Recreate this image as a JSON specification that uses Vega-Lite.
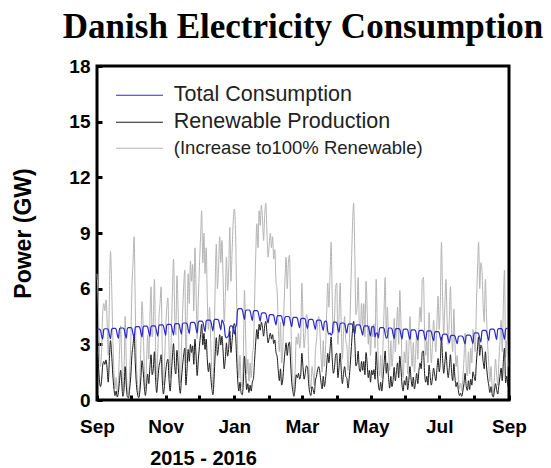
{
"$schema": "https://vega.github.io/schema/vega-lite/v6.json",
"width": 412, "height": 334,
"autosize": "none",
"padding": {"left": 97, "top": 66, "right": 42, "bottom": 68},
"background": "white",
"title": {"text": "Danish Electricity Consumption", "font": "Liberation Serif", "fontSize": 35, "fontWeight": "bold", "color": "black", "anchor": "middle", "frame": "group", "baseline": "alphabetic", "offset": 17, "dy": 33},
"config": {"view": {"stroke": "black", "strokeWidth": 3}},
"data": {"values": [
{"d":"2015-09-01","t":3.82,"r":2.72,"g":6.8},{"d":"2015-09-02","t":3.82,"r":2.2,"g":5.5},{"d":"2015-09-03","t":3.82,"r":1.2,"g":3.0},{"d":"2015-09-04","t":3.77,"r":0.72,"g":1.8},{"d":"2015-09-05","t":3.49,"r":1.0,"g":2.5},{"d":"2015-09-06","t":3.28,"r":1.84,"g":4.6},{"d":"2015-09-07","t":3.79,"r":2.08,"g":5.2},{"d":"2015-09-08","t":3.84,"r":1.92,"g":4.8},{"d":"2015-09-09","t":3.84,"r":2.16,"g":5.4},{"d":"2015-09-10","t":3.84,"r":1.68,"g":4.2},{"d":"2015-09-11","t":3.79,"r":0.96,"g":2.4},{"d":"2015-09-12","t":3.51,"r":2.24,"g":5.6},{"d":"2015-09-13","t":3.30,"r":3.2,"g":8.0},{"d":"2015-09-14","t":3.81,"r":2.48,"g":6.2},{"d":"2015-09-15","t":3.86,"r":1.4,"g":3.5},{"d":"2015-09-16","t":3.86,"r":0.64,"g":1.6},{"d":"2015-09-17","t":3.86,"r":0.24,"g":0.6},{"d":"2015-09-18","t":3.81,"r":0.48,"g":1.2},{"d":"2015-09-19","t":3.53,"r":0.16,"g":0.4},{"d":"2015-09-20","t":3.32,"r":0.4,"g":1.0},{"d":"2015-09-21","t":3.83,"r":1.04,"g":2.6},{"d":"2015-09-22","t":3.88,"r":1.6,"g":4.0},{"d":"2015-09-23","t":3.88,"r":0.88,"g":2.2},{"d":"2015-09-24","t":3.88,"r":0.2,"g":0.5},{"d":"2015-09-25","t":3.83,"r":0.56,"g":1.4},{"d":"2015-09-26","t":3.55,"r":1.8,"g":4.5},{"d":"2015-09-27","t":3.33,"r":0.8,"g":2.0},{"d":"2015-09-28","t":3.85,"r":0.16,"g":0.4},{"d":"2015-09-29","t":3.9,"r":0.12,"g":0.3},{"d":"2015-09-30","t":3.9,"r":0.6,"g":1.5},
{"d":"2015-10-01","t":3.9,"r":1.28,"g":3.2},{"d":"2015-10-02","t":3.85,"r":2.4,"g":6.0},{"d":"2015-10-03","t":3.57,"r":2.96,"g":7.4},{"d":"2015-10-04","t":3.35,"r":3.52,"g":8.8},{"d":"2015-10-05","t":3.9,"r":2.0,"g":5.0},{"d":"2015-10-06","t":3.95,"r":0.84,"g":2.1},{"d":"2015-10-07","t":3.95,"r":0.32,"g":0.8},{"d":"2015-10-08","t":3.95,"r":0.12,"g":0.3},{"d":"2015-10-09","t":3.9,"r":0.4,"g":1.0},{"d":"2015-10-10","t":3.62,"r":1.2,"g":3.0},{"d":"2015-10-11","t":3.4,"r":2.12,"g":5.3},{"d":"2015-10-12","t":3.93,"r":1.6,"g":4.0},{"d":"2015-10-13","t":3.98,"r":0.72,"g":1.8},{"d":"2015-10-14","t":3.98,"r":0.24,"g":0.6},{"d":"2015-10-15","t":3.98,"r":0.8,"g":2.0},{"d":"2015-10-16","t":3.93,"r":1.4,"g":3.5},{"d":"2015-10-17","t":3.65,"r":0.88,"g":2.2},{"d":"2015-10-18","t":3.42,"r":1.76,"g":4.4},{"d":"2015-10-19","t":3.95,"r":2.44,"g":6.1},{"d":"2015-10-20","t":4.0,"r":1.36,"g":3.4},{"d":"2015-10-21","t":4.0,"r":1.68,"g":4.2},{"d":"2015-10-22","t":4.0,"r":2.6,"g":6.5},{"d":"2015-10-23","t":3.95,"r":1.2,"g":3.0},{"d":"2015-10-24","t":3.67,"r":0.4,"g":1.0},{"d":"2015-10-25","t":3.44,"r":1.04,"g":2.6},{"d":"2015-10-26","t":4.0,"r":1.76,"g":4.4},{"d":"2015-10-27","t":4.05,"r":2.08,"g":5.2},{"d":"2015-10-28","t":4.05,"r":2.44,"g":6.1},{"d":"2015-10-29","t":4.05,"r":1.04,"g":2.6},{"d":"2015-10-30","t":4.0,"r":0.32,"g":0.8},{"d":"2015-10-31","t":3.72,"r":0.8,"g":2.0},
{"d":"2015-11-01","t":3.48,"r":1.52,"g":3.8},{"d":"2015-11-02","t":4.03,"r":2.0,"g":5.0},{"d":"2015-11-03","t":4.08,"r":2.2,"g":5.5},{"d":"2015-11-04","t":4.08,"r":1.12,"g":2.8},{"d":"2015-11-05","t":4.08,"r":0.48,"g":1.2},{"d":"2015-11-06","t":4.03,"r":1.36,"g":3.4},{"d":"2015-11-07","t":3.75,"r":2.32,"g":5.8},{"d":"2015-11-08","t":3.5,"r":3.04,"g":7.6},{"d":"2015-11-09","t":4.07,"r":1.84,"g":4.6},{"d":"2015-11-10","t":4.12,"r":1.4,"g":3.5},{"d":"2015-11-11","t":4.12,"r":2.68,"g":6.7},{"d":"2015-11-12","t":4.12,"r":2.0,"g":5.0},{"d":"2015-11-13","t":4.07,"r":0.88,"g":2.2},{"d":"2015-11-14","t":3.79,"r":0.36,"g":0.9},{"d":"2015-11-15","t":3.55,"r":1.12,"g":2.8},{"d":"2015-11-16","t":4.1,"r":1.84,"g":4.6},{"d":"2015-11-17","t":4.15,"r":2.44,"g":6.1},{"d":"2015-11-18","t":4.15,"r":2.8,"g":7.0},{"d":"2015-11-19","t":4.15,"r":0.8,"g":2.0},{"d":"2015-11-20","t":4.1,"r":1.68,"g":4.2},{"d":"2015-11-21","t":3.82,"r":2.72,"g":6.8},{"d":"2015-11-22","t":3.58,"r":2.08,"g":5.2},{"d":"2015-11-23","t":4.13,"r":3.0,"g":7.5},{"d":"2015-11-24","t":4.18,"r":2.56,"g":6.4},{"d":"2015-11-25","t":4.18,"r":2.92,"g":7.3},{"d":"2015-11-26","t":4.18,"r":1.92,"g":4.8},{"d":"2015-11-27","t":4.13,"r":3.28,"g":8.2},{"d":"2015-11-28","t":3.85,"r":2.4,"g":6.0},{"d":"2015-11-29","t":3.6,"r":1.32,"g":3.3},{"d":"2015-11-30","t":4.2,"r":2.16,"g":5.4},
{"d":"2015-12-01","t":4.25,"r":2.88,"g":7.2},{"d":"2015-12-02","t":4.25,"r":3.52,"g":8.8},{"d":"2015-12-03","t":4.25,"r":4.08,"g":10.2},{"d":"2015-12-04","t":4.2,"r":2.96,"g":7.4},{"d":"2015-12-05","t":3.92,"r":3.6,"g":9.0},{"d":"2015-12-06","t":3.68,"r":2.72,"g":6.8},{"d":"2015-12-07","t":4.25,"r":3.28,"g":8.2},{"d":"2015-12-08","t":4.3,"r":2.16,"g":5.4},{"d":"2015-12-09","t":4.3,"r":1.52,"g":3.8},{"d":"2015-12-10","t":4.3,"r":2.0,"g":5.0},{"d":"2015-12-11","t":4.25,"r":1.28,"g":3.2},{"d":"2015-12-12","t":3.97,"r":0.64,"g":1.6},{"d":"2015-12-13","t":3.72,"r":0.28,"g":0.7},{"d":"2015-12-14","t":4.3,"r":1.12,"g":2.8},{"d":"2015-12-15","t":4.35,"r":2.48,"g":6.2},{"d":"2015-12-16","t":4.35,"r":3.36,"g":8.4},{"d":"2015-12-17","t":4.35,"r":2.4,"g":6.0},{"d":"2015-12-18","t":4.3,"r":2.88,"g":7.2},{"d":"2015-12-19","t":4.02,"r":3.52,"g":8.8},{"d":"2015-12-20","t":3.78,"r":2.96,"g":7.4},{"d":"2015-12-21","t":4.3,"r":3.44,"g":8.6},{"d":"2015-12-22","t":4.2,"r":2.64,"g":6.6},{"d":"2015-12-23","t":4.0,"r":1.68,"g":4.2},{"d":"2015-12-24","t":3.45,"r":2.24,"g":5.6},{"d":"2015-12-25","t":3.35,"r":3.08,"g":7.7},{"d":"2015-12-26","t":3.4,"r":2.36,"g":5.9},{"d":"2015-12-27","t":3.5,"r":2.8,"g":7.0},{"d":"2015-12-28","t":3.95,"r":3.72,"g":9.3},{"d":"2015-12-29","t":4.0,"r":2.56,"g":6.4},{"d":"2015-12-30","t":4.0,"r":3.2,"g":8.0},{"d":"2015-12-31","t":3.8,"r":3.84,"g":9.6},
{"d":"2016-01-01","t":3.55,"r":4.12,"g":10.3},{"d":"2016-01-02","t":3.9,"r":3.68,"g":9.2},{"d":"2016-01-03","t":4.1,"r":2.32,"g":5.8},{"d":"2016-01-04","t":4.87,"r":1.08,"g":2.7},{"d":"2016-01-05","t":4.92,"r":0.48,"g":1.2},{"d":"2016-01-06","t":4.92,"r":0.96,"g":2.4},{"d":"2016-01-07","t":4.92,"r":0.4,"g":1.0},{"d":"2016-01-08","t":4.87,"r":0.28,"g":0.7},{"d":"2016-01-09","t":4.59,"r":0.92,"g":2.3},{"d":"2016-01-10","t":4.35,"r":2.36,"g":5.9},{"d":"2016-01-11","t":4.8,"r":1.44,"g":3.6},{"d":"2016-01-12","t":4.85,"r":0.56,"g":1.4},{"d":"2016-01-13","t":4.85,"r":0.88,"g":2.2},{"d":"2016-01-14","t":4.85,"r":0.4,"g":1.0},{"d":"2016-01-15","t":4.8,"r":0.8,"g":2.0},{"d":"2016-01-16","t":4.52,"r":0.48,"g":1.2},{"d":"2016-01-17","t":4.28,"r":0.96,"g":2.4},{"d":"2016-01-18","t":4.77,"r":1.16,"g":2.9},{"d":"2016-01-19","t":4.82,"r":2.16,"g":5.4},{"d":"2016-01-20","t":4.82,"r":3.12,"g":7.8},{"d":"2016-01-21","t":4.82,"r":3.8,"g":9.5},{"d":"2016-01-22","t":4.77,"r":3.28,"g":8.2},{"d":"2016-01-23","t":4.49,"r":4.08,"g":10.2},{"d":"2016-01-24","t":4.25,"r":3.76,"g":9.4},{"d":"2016-01-25","t":4.65,"r":4.2,"g":10.5},{"d":"2016-01-26","t":4.7,"r":3.92,"g":9.8},{"d":"2016-01-27","t":4.7,"r":3.44,"g":8.6},{"d":"2016-01-28","t":4.7,"r":4.0,"g":10.0},{"d":"2016-01-29","t":4.65,"r":4.24,"g":10.6},{"d":"2016-01-30","t":4.37,"r":3.6,"g":9.0},{"d":"2016-01-31","t":4.15,"r":3.08,"g":7.7},
{"d":"2016-02-01","t":4.55,"r":3.36,"g":8.4},{"d":"2016-02-02","t":4.6,"r":3.6,"g":9.0},{"d":"2016-02-03","t":4.6,"r":3.28,"g":8.2},{"d":"2016-02-04","t":4.6,"r":3.52,"g":8.8},{"d":"2016-02-05","t":4.55,"r":3.04,"g":7.6},{"d":"2016-02-06","t":4.27,"r":3.24,"g":8.1},{"d":"2016-02-07","t":4.05,"r":2.56,"g":6.4},{"d":"2016-02-08","t":4.5,"r":2.36,"g":5.9},{"d":"2016-02-09","t":4.55,"r":1.6,"g":4.0},{"d":"2016-02-10","t":4.55,"r":1.04,"g":2.6},{"d":"2016-02-11","t":4.55,"r":1.68,"g":4.2},{"d":"2016-02-12","t":4.5,"r":0.8,"g":2.0},{"d":"2016-02-13","t":4.22,"r":1.08,"g":2.7},{"d":"2016-02-14","t":4.0,"r":1.92,"g":4.8},{"d":"2016-02-15","t":4.45,"r":2.6,"g":6.5},{"d":"2016-02-16","t":4.5,"r":3.08,"g":7.7},{"d":"2016-02-17","t":4.5,"r":2.4,"g":6.0},{"d":"2016-02-18","t":4.5,"r":2.96,"g":7.4},{"d":"2016-02-19","t":4.45,"r":3.12,"g":7.8},{"d":"2016-02-20","t":4.17,"r":2.0,"g":5.0},{"d":"2016-02-21","t":3.95,"r":0.96,"g":2.4},{"d":"2016-02-22","t":4.4,"r":0.48,"g":1.2},{"d":"2016-02-23","t":4.45,"r":0.2,"g":0.5},{"d":"2016-02-24","t":4.45,"r":0.64,"g":1.6},{"d":"2016-02-25","t":4.45,"r":1.36,"g":3.4},{"d":"2016-02-26","t":4.4,"r":1.2,"g":3.0},{"d":"2016-02-27","t":4.12,"r":1.44,"g":3.6},{"d":"2016-02-28","t":3.9,"r":1.12,"g":2.8},{"d":"2016-02-29","t":4.35,"r":1.36,"g":3.4},
{"d":"2016-03-01","t":4.4,"r":2.52,"g":6.3},{"d":"2016-03-02","t":4.4,"r":1.76,"g":4.4},{"d":"2016-03-03","t":4.4,"r":1.12,"g":2.8},{"d":"2016-03-04","t":4.35,"r":1.44,"g":3.6},{"d":"2016-03-05","t":4.07,"r":1.84,"g":4.6},{"d":"2016-03-06","t":3.85,"r":1.76,"g":4.4},{"d":"2016-03-07","t":4.3,"r":0.88,"g":2.2},{"d":"2016-03-08","t":4.35,"r":0.4,"g":1.0},{"d":"2016-03-09","t":4.35,"r":0.24,"g":0.6},{"d":"2016-03-10","t":4.35,"r":0.72,"g":1.8},{"d":"2016-03-11","t":4.3,"r":0.56,"g":1.4},{"d":"2016-03-12","t":4.02,"r":0.32,"g":0.8},{"d":"2016-03-13","t":3.8,"r":1.04,"g":2.6},{"d":"2016-03-14","t":4.25,"r":1.28,"g":3.2},{"d":"2016-03-15","t":4.3,"r":1.64,"g":4.1},{"d":"2016-03-16","t":4.3,"r":1.8,"g":4.5},{"d":"2016-03-17","t":4.3,"r":1.48,"g":3.7},{"d":"2016-03-18","t":4.25,"r":0.96,"g":2.4},{"d":"2016-03-19","t":3.97,"r":0.6,"g":1.5},{"d":"2016-03-20","t":3.75,"r":1.28,"g":3.2},{"d":"2016-03-21","t":4.2,"r":0.72,"g":1.8},{"d":"2016-03-22","t":4.25,"r":1.12,"g":2.8},{"d":"2016-03-23","t":4.2,"r":1.84,"g":4.6},{"d":"2016-03-24","t":3.7,"r":2.52,"g":6.3},{"d":"2016-03-25","t":3.55,"r":2.0,"g":5.0},{"d":"2016-03-26","t":3.6,"r":2.72,"g":6.8},{"d":"2016-03-27","t":3.5,"r":3.4,"g":8.5},{"d":"2016-03-28","t":3.6,"r":2.16,"g":5.4},{"d":"2016-03-29","t":4.2,"r":1.44,"g":3.6},{"d":"2016-03-30","t":4.2,"r":1.76,"g":4.4},{"d":"2016-03-31","t":4.2,"r":2.44,"g":6.1},
{"d":"2016-04-01","t":4.15,"r":2.52,"g":6.3},{"d":"2016-04-02","t":3.85,"r":1.2,"g":3.0},{"d":"2016-04-03","t":3.65,"r":1.76,"g":4.4},{"d":"2016-04-04","t":4.1,"r":2.52,"g":6.3},{"d":"2016-04-05","t":4.15,"r":1.6,"g":4.0},{"d":"2016-04-06","t":4.15,"r":0.88,"g":2.2},{"d":"2016-04-07","t":4.15,"r":1.44,"g":3.6},{"d":"2016-04-08","t":4.1,"r":1.8,"g":4.5},{"d":"2016-04-09","t":3.82,"r":1.28,"g":3.2},{"d":"2016-04-10","t":3.6,"r":1.16,"g":2.9},{"d":"2016-04-11","t":4.05,"r":0.64,"g":1.6},{"d":"2016-04-12","t":4.1,"r":1.16,"g":2.9},{"d":"2016-04-13","t":4.1,"r":1.92,"g":4.8},{"d":"2016-04-14","t":4.1,"r":2.88,"g":7.2},{"d":"2016-04-15","t":4.05,"r":3.76,"g":9.4},{"d":"2016-04-16","t":3.77,"r":4.24,"g":10.6},{"d":"2016-04-17","t":3.55,"r":3.2,"g":8.0},{"d":"2016-04-18","t":4.0,"r":1.84,"g":4.6},{"d":"2016-04-19","t":4.05,"r":2.0,"g":5.0},{"d":"2016-04-20","t":4.05,"r":2.64,"g":6.6},{"d":"2016-04-21","t":4.05,"r":1.68,"g":4.2},{"d":"2016-04-22","t":4.0,"r":1.52,"g":3.8},{"d":"2016-04-23","t":3.72,"r":2.08,"g":5.2},{"d":"2016-04-24","t":3.5,"r":1.6,"g":4.0},{"d":"2016-04-25","t":3.95,"r":2.08,"g":5.2},{"d":"2016-04-26","t":4.0,"r":1.36,"g":3.4},{"d":"2016-04-27","t":4.0,"r":2.56,"g":6.4},{"d":"2016-04-28","t":4.0,"r":1.96,"g":4.9},{"d":"2016-04-29","t":3.95,"r":1.2,"g":3.0},{"d":"2016-04-30","t":3.67,"r":1.6,"g":4.0},
{"d":"2016-05-01","t":3.45,"r":0.96,"g":2.4},{"d":"2016-05-02","t":3.9,"r":1.6,"g":4.0},{"d":"2016-05-03","t":3.95,"r":1.36,"g":3.4},{"d":"2016-05-04","t":3.95,"r":1.64,"g":4.1},{"d":"2016-05-05","t":3.4,"r":1.12,"g":2.8},{"d":"2016-05-06","t":3.6,"r":2.6,"g":6.5},{"d":"2016-05-07","t":3.6,"r":1.6,"g":4.0},{"d":"2016-05-08","t":3.35,"r":0.8,"g":2.0},{"d":"2016-05-09","t":3.85,"r":0.52,"g":1.3},{"d":"2016-05-10","t":3.9,"r":0.96,"g":2.4},{"d":"2016-05-11","t":3.9,"r":0.48,"g":1.2},{"d":"2016-05-12","t":3.9,"r":1.12,"g":2.8},{"d":"2016-05-13","t":3.85,"r":1.92,"g":4.8},{"d":"2016-05-14","t":3.57,"r":2.64,"g":6.6},{"d":"2016-05-15","t":3.33,"r":1.44,"g":3.6},{"d":"2016-05-16","t":3.4,"r":2.0,"g":5.0},{"d":"2016-05-17","t":3.88,"r":1.2,"g":3.0},{"d":"2016-05-18","t":3.88,"r":0.64,"g":1.6},{"d":"2016-05-19","t":3.88,"r":1.28,"g":3.2},{"d":"2016-05-20","t":3.83,"r":0.72,"g":1.8},{"d":"2016-05-21","t":3.55,"r":1.04,"g":2.6},{"d":"2016-05-22","t":3.3,"r":1.76,"g":4.4},{"d":"2016-05-23","t":3.8,"r":1.04,"g":2.6},{"d":"2016-05-24","t":3.85,"r":1.52,"g":3.8},{"d":"2016-05-25","t":3.85,"r":2.0,"g":5.0},{"d":"2016-05-26","t":3.85,"r":1.2,"g":3.0},{"d":"2016-05-27","t":3.8,"r":2.36,"g":5.9},{"d":"2016-05-28","t":3.52,"r":1.68,"g":4.2},{"d":"2016-05-29","t":3.28,"r":0.8,"g":2.0},{"d":"2016-05-30","t":3.77,"r":0.48,"g":1.2},{"d":"2016-05-31","t":3.82,"r":1.04,"g":2.6},
{"d":"2016-06-01","t":3.82,"r":0.8,"g":2.0},{"d":"2016-06-02","t":3.82,"r":1.28,"g":3.2},{"d":"2016-06-03","t":3.77,"r":0.56,"g":1.4},{"d":"2016-06-04","t":3.49,"r":1.04,"g":2.6},{"d":"2016-06-05","t":3.26,"r":1.8,"g":4.5},{"d":"2016-06-06","t":3.73,"r":1.12,"g":2.8},{"d":"2016-06-07","t":3.78,"r":0.72,"g":1.8},{"d":"2016-06-08","t":3.78,"r":1.24,"g":3.1},{"d":"2016-06-09","t":3.78,"r":0.6,"g":1.5},{"d":"2016-06-10","t":3.73,"r":0.96,"g":2.4},{"d":"2016-06-11","t":3.45,"r":1.44,"g":3.6},{"d":"2016-06-12","t":3.24,"r":0.88,"g":2.2},{"d":"2016-06-13","t":3.7,"r":1.6,"g":4.0},{"d":"2016-06-14","t":3.75,"r":2.0,"g":5.0},{"d":"2016-06-15","t":3.75,"r":1.68,"g":4.2},{"d":"2016-06-16","t":3.75,"r":2.6,"g":6.5},{"d":"2016-06-17","t":3.7,"r":2.64,"g":6.6},{"d":"2016-06-18","t":3.42,"r":1.44,"g":3.6},{"d":"2016-06-19","t":3.22,"r":0.96,"g":2.4},{"d":"2016-06-20","t":3.67,"r":1.28,"g":3.2},{"d":"2016-06-21","t":3.72,"r":0.8,"g":2.0},{"d":"2016-06-22","t":3.72,"r":1.88,"g":4.7},{"d":"2016-06-23","t":3.72,"r":1.28,"g":3.2},{"d":"2016-06-24","t":3.67,"r":0.8,"g":2.0},{"d":"2016-06-25","t":3.39,"r":1.2,"g":3.0},{"d":"2016-06-26","t":3.2,"r":1.72,"g":4.3},{"d":"2016-06-27","t":3.63,"r":1.36,"g":3.4},{"d":"2016-06-28","t":3.68,"r":1.04,"g":2.6},{"d":"2016-06-29","t":3.68,"r":1.68,"g":4.2},{"d":"2016-06-30","t":3.68,"r":2.24,"g":5.6},
{"d":"2016-07-01","t":3.63,"r":1.52,"g":3.8},{"d":"2016-07-02","t":3.35,"r":2.08,"g":5.2},{"d":"2016-07-03","t":3.16,"r":3.4,"g":8.5},{"d":"2016-07-04","t":3.5,"r":2.24,"g":5.6},{"d":"2016-07-05","t":3.55,"r":1.44,"g":3.6},{"d":"2016-07-06","t":3.55,"r":2.0,"g":5.0},{"d":"2016-07-07","t":3.55,"r":2.6,"g":6.5},{"d":"2016-07-08","t":3.5,"r":1.76,"g":4.4},{"d":"2016-07-09","t":3.27,"r":1.2,"g":3.0},{"d":"2016-07-10","t":3.08,"r":1.76,"g":4.4},{"d":"2016-07-11","t":3.43,"r":2.44,"g":6.1},{"d":"2016-07-12","t":3.48,"r":1.52,"g":3.8},{"d":"2016-07-13","t":3.48,"r":1.04,"g":2.6},{"d":"2016-07-14","t":3.48,"r":1.96,"g":4.9},{"d":"2016-07-15","t":3.43,"r":1.2,"g":3.0},{"d":"2016-07-16","t":3.22,"r":0.72,"g":1.8},{"d":"2016-07-17","t":3.04,"r":0.96,"g":2.4},{"d":"2016-07-18","t":3.4,"r":0.52,"g":1.3},{"d":"2016-07-19","t":3.45,"r":0.24,"g":0.6},{"d":"2016-07-20","t":3.45,"r":0.36,"g":0.9},{"d":"2016-07-21","t":3.45,"r":0.2,"g":0.5},{"d":"2016-07-22","t":3.4,"r":0.48,"g":1.2},{"d":"2016-07-23","t":3.2,"r":0.88,"g":2.2},{"d":"2016-07-24","t":3.02,"r":1.44,"g":3.6},{"d":"2016-07-25","t":3.45,"r":0.72,"g":1.8},{"d":"2016-07-26","t":3.5,"r":0.52,"g":1.3},{"d":"2016-07-27","t":3.5,"r":1.04,"g":2.6},{"d":"2016-07-28","t":3.5,"r":0.56,"g":1.4},{"d":"2016-07-29","t":3.45,"r":1.12,"g":2.8},{"d":"2016-07-30","t":3.23,"r":0.8,"g":2.0},{"d":"2016-07-31","t":3.05,"r":1.52,"g":3.8},
{"d":"2016-08-01","t":3.57,"r":1.28,"g":3.2},{"d":"2016-08-02","t":3.62,"r":1.04,"g":2.6},{"d":"2016-08-03","t":3.62,"r":2.0,"g":5.0},{"d":"2016-08-04","t":3.62,"r":2.8,"g":7.0},{"d":"2016-08-05","t":3.57,"r":3.4,"g":8.5},{"d":"2016-08-06","t":3.32,"r":2.4,"g":6.0},{"d":"2016-08-07","t":3.12,"r":2.96,"g":7.4},{"d":"2016-08-08","t":3.7,"r":2.8,"g":7.0},{"d":"2016-08-09","t":3.75,"r":2.08,"g":5.2},{"d":"2016-08-10","t":3.75,"r":1.68,"g":4.2},{"d":"2016-08-11","t":3.75,"r":2.6,"g":6.5},{"d":"2016-08-12","t":3.7,"r":1.84,"g":4.6},{"d":"2016-08-13","t":3.42,"r":1.2,"g":3.0},{"d":"2016-08-14","t":3.2,"r":0.8,"g":2.0},{"d":"2016-08-15","t":3.77,"r":0.4,"g":1.0},{"d":"2016-08-16","t":3.82,"r":0.72,"g":1.8},{"d":"2016-08-17","t":3.82,"r":0.32,"g":0.8},{"d":"2016-08-18","t":3.82,"r":0.16,"g":0.4},{"d":"2016-08-19","t":3.77,"r":0.48,"g":1.2},{"d":"2016-08-20","t":3.49,"r":0.88,"g":2.2},{"d":"2016-08-21","t":3.25,"r":0.56,"g":1.4},{"d":"2016-08-22","t":3.8,"r":0.32,"g":0.8},{"d":"2016-08-23","t":3.85,"r":0.8,"g":2.0},{"d":"2016-08-24","t":3.85,"r":1.28,"g":3.2},{"d":"2016-08-25","t":3.85,"r":1.72,"g":4.3},{"d":"2016-08-26","t":3.8,"r":1.04,"g":2.6},{"d":"2016-08-27","t":3.52,"r":2.08,"g":5.2},{"d":"2016-08-28","t":3.27,"r":2.8,"g":7.0},{"d":"2016-08-29","t":3.81,"r":0.92,"g":2.3},{"d":"2016-08-30","t":3.86,"r":1.28,"g":3.2},{"d":"2016-08-31","t":3.86,"r":0.72,"g":1.8}
]},
"encoding": {
  "x": {"field": "d", "type": "temporal",
    "scale": {"type": "utc", "domain": [{"year": 2015, "month": 9, "date": 1, "utc": true}, {"year": 2016, "month": 9, "date": 1, "utc": true}]},
    "axis": {"title": "2015 - 2016", "domain": false, "grid": false,
      "values": [{"year":2015,"month":9,"date":1,"utc":true},{"year":2015,"month":10,"date":1,"utc":true},{"year":2015,"month":11,"date":1,"utc":true},{"year":2015,"month":12,"date":1,"utc":true},{"year":2016,"month":1,"date":1,"utc":true},{"year":2016,"month":2,"date":1,"utc":true},{"year":2016,"month":3,"date":1,"utc":true},{"year":2016,"month":4,"date":1,"utc":true},{"year":2016,"month":5,"date":1,"utc":true},{"year":2016,"month":6,"date":1,"utc":true},{"year":2016,"month":7,"date":1,"utc":true},{"year":2016,"month":8,"date":1,"utc":true},{"year":2016,"month":9,"date":1,"utc":true}],
      "labelExpr": "utcmonth(datum.value) % 2 == 0 ? utcFormat(datum.value, '%b') : ''",
      "labelFlush": false, "labelOverlap": false,
      "labelFont": "Liberation Sans", "labelFontSize": 19, "labelFontWeight": "bold", "labelColor": "black",
      "labelBaseline": "alphabetic", "labelPadding": 37,
      "tickSize": -5, "tickWidth": 3, "tickColor": "black",
      "titleFont": "Liberation Sans", "titleFontSize": 20, "titleFontWeight": "bold", "titleColor": "black",
      "titleX": 106, "titleY": 64, "titleAlign": "center", "titleBaseline": "alphabetic", "titleAnchor": null}
  }
},
"layer": [
  {"mark": {"type": "line", "strokeWidth": 1, "interpolate": "monotone"},
   "encoding": {
     "y": {"field": "g", "type": "quantitative", "scale": {"domain": [0, 18]},
       "axis": {"title": "Power (GW)", "domain": false, "grid": false,
         "values": [0,1.5,3,4.5,6,7.5,9,10.5,12,13.5,15,16.5,18],
         "labelExpr": "datum.value % 3 == 0 ? format(datum.value, 'd') : ''",
         "labelFont": "Liberation Sans", "labelFontSize": 19, "labelFontWeight": "bold", "labelColor": "black",
         "labelPadding": 12, "labelOverlap": false, "labelFlush": false,
         "tickSize": -5, "tickWidth": 3, "tickColor": "black",
         "titleFont": "Liberation Sans", "titleFontSize": 23, "titleFontWeight": "bold", "titleColor": "black",
         "titleAngle": -90, "titleX": -67, "titleY": 167, "titleAlign": "center", "titleBaseline": "alphabetic"}},
     "color": {"datum": "(Increase to100% Renewable)", "type": "nominal",
       "scale": {"domain": ["Total Consumption", "Renewable Production", "(Increase to100% Renewable)"], "range": ["#2a2ac8", "#1a1a1a", "#b4b4b4"]},
       "legend": {"orient": "none", "legendX": 31.7, "legendY": 18.5, "title": null, "padding": 0,
         "symbolType": "M-3,0H3", "symbolSize": 245, "symbolStrokeWidth": 1.2,
         "labelFont": "Liberation Sans", "labelColor": "#222", "labelOffset": 23.6, "labelLimit": 0,
         "labelFontSize": {"expr": "datum.index == 2 ? 18.5 : 21.5"},
         "rowPadding": 4}}
   }},
  {"mark": {"type": "line", "strokeWidth": 1, "interpolate": "monotone"},
   "encoding": {
     "y": {"field": "r", "type": "quantitative", "axis": {"title": "Power (GW)"}},
     "color": {"datum": "Renewable Production", "type": "nominal"}
   }},
  {"mark": {"type": "line", "strokeWidth": 1.2, "interpolate": "monotone"},
   "encoding": {
     "y": {"field": "t", "type": "quantitative", "axis": {"title": "Power (GW)"}},
     "color": {"datum": "Total Consumption", "type": "nominal"}
   }}
]
}
